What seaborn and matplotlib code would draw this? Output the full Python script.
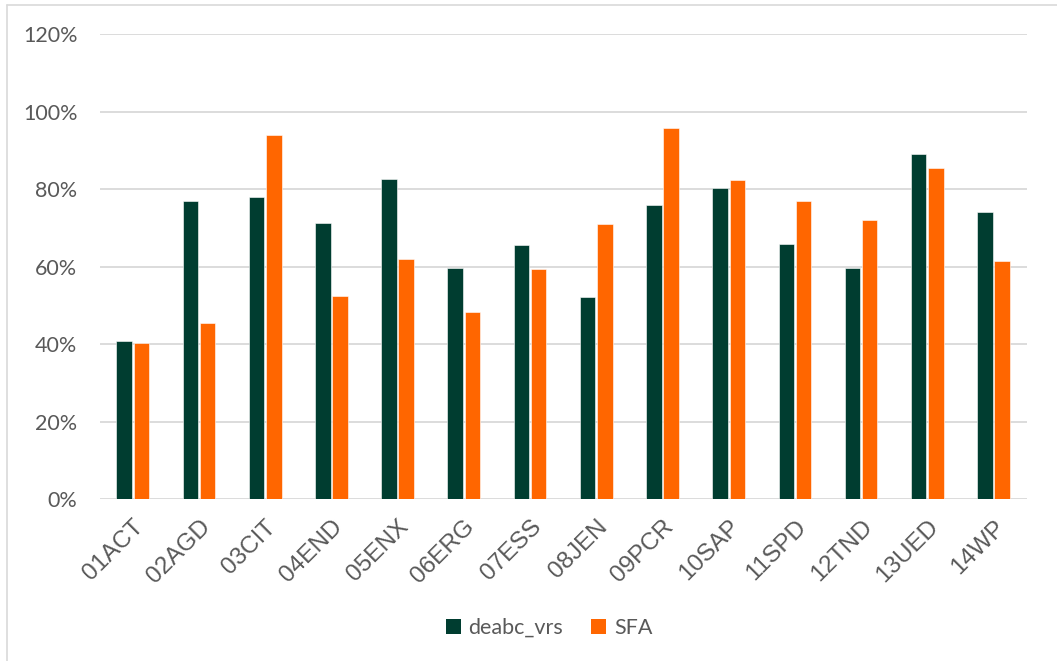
import matplotlib
matplotlib.use("Agg")
from matplotlib import pyplot as plt
from matplotlib.lines import Line2D
from matplotlib.patches import Patch
import seaborn as sns
import pandas as pd

categories = ['01ACT', '02AGD', '03CIT', '04END', '05ENX', '06ERG', '07ESS',
              '08JEN', '09PCR', '10SAP', '11SPD', '12TND', '13UED', '14WP']
deabc_vrs = [0.409, 0.771, 0.779, 0.713, 0.827, 0.596, 0.655,
             0.523, 0.759, 0.803, 0.658, 0.596, 0.891, 0.741]
sfa = [0.403, 0.454, 0.939, 0.525, 0.620, 0.483, 0.594,
       0.710, 0.959, 0.824, 0.769, 0.721, 0.854, 0.614]
series_names = ['deabc_vrs', 'SFA']
colors = ['#003D30', '#FF6600']
y_ticks = [0, 0.2, 0.4, 0.6, 0.8, 1.0, 1.2]

df = pd.DataFrame({
    'category': categories * 2,
    'value': deabc_vrs + sfa,
    'series': [series_names[0]] * len(categories) + [series_names[1]] * len(categories),
})

sns.set_style('white')
text_color = '#595959'

fig = plt.figure(figsize=(10.57, 6.61), dpi=100)
ax = fig.add_axes([0.0943, 0.2446, 0.8770, 0.7035])

sns.barplot(data=df, x='category', y='value', hue='series', order=categories,
            hue_order=series_names, palette=colors, saturation=1, width=0.52, gap=0.1,
            edgecolor='white', linewidth=0.4, ax=ax, legend=False)

ax.set_ylim(0, 1.2)
ax.set_xlim(-0.5, len(categories) - 0.5)
ax.set_yticks(y_ticks)
ax.set_yticklabels([f'{int(round(t * 100))}%' for t in y_ticks],
                   fontsize=15.5, color=text_color, family=['Lato', 'DejaVu Sans'])
ax.yaxis.grid(True, color='#D9D9D9', linewidth=1.3)
ax.set_axisbelow(True)
for s in ax.spines.values():
    s.set_visible(False)
ax.tick_params(axis='y', length=0, pad=16)
ax.tick_params(axis='x', length=0, pad=12)
ax.set_xticks(range(len(categories)))
ax.set_xticklabels(categories, rotation=45, ha='right', va='top', rotation_mode='anchor',
                   fontsize=17.5, color=text_color, family=['Liberation Sans', 'DejaVu Sans'])
ax.set_xlabel('')
ax.set_ylabel('')

handles = [Patch(facecolor=c, edgecolor='none') for c in colors]
fig.legend(handles, series_names, loc='center', bbox_to_anchor=(549 / 1057, 1 - 628 / 661),
           ncol=2, frameon=False, handlelength=0.7, handleheight=0.7, handletextpad=0.35,
           columnspacing=1.3, prop={'family': ['Lato', 'DejaVu Sans'], 'size': 15.5},
           labelcolor=text_color)

# chart frame (left and top edges visible)
fig.add_artist(Line2D([7 / 1057, 7 / 1057], [0, 1 - 5 / 661], color='#D9D9D9', linewidth=1.2))
fig.add_artist(Line2D([7 / 1057, 1], [1 - 5 / 661, 1 - 5 / 661], color='#D9D9D9', linewidth=1.2))

fig.savefig('out.png', dpi=100, facecolor='white')
